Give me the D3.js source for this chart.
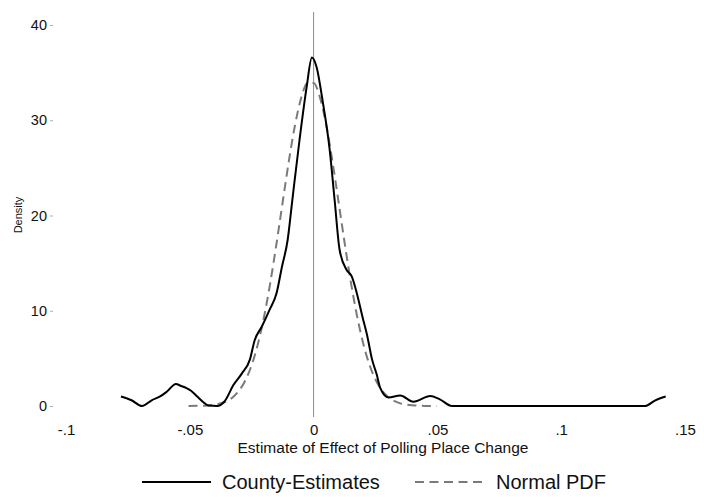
<!DOCTYPE html>
<html>
<head>
<meta charset="utf-8">
<script src="https://cdn.jsdelivr.net/npm/d3@7"></script>
<style>
  html, body { margin: 0; padding: 0; background: #fff; }
  svg { display: block; font-family: "Liberation Sans", Arial, Helvetica, sans-serif; }
</style>
</head>
<body>
<svg id="chart" width="704" height="497"></svg>
<script>
// Kernel density of county-level estimates (x = effect, y = density)
const countyX = [-0.0778, -0.0735, -0.0693, -0.0654, -0.062, -0.0593, -0.0556, -0.0535, -0.0515, -0.0495,
  -0.047, -0.0445, -0.0425, -0.039, -0.0358, -0.0324, -0.029, -0.0257, -0.0238, -0.021,
  -0.0178, -0.015, -0.0128, -0.0105, -0.0086, -0.0057, -0.0028, -0.0007, 0.0012, 0.0036,
  0.0065, 0.0085, 0.0105, 0.0133, 0.0154, 0.0174, 0.0198, 0.0218, 0.0235, 0.0255,
  0.0269, 0.0302, 0.035, 0.0403, 0.0471, 0.051, 0.0559, 0.1338, 0.138, 0.1422];
const countyY = [1.0, 0.6, 0.0, 0.6, 1.0, 1.5, 2.3, 2.1, 1.9, 1.6,
  1.0, 0.4, 0.05, 0.0, 0.55, 2.2, 3.4, 4.9, 6.9, 8.3,
  10.1, 11.8, 14.6, 17.4, 21.6, 27.9, 33.5, 36.6, 35.6, 32.1,
  26.9, 21.6, 16.4, 14.3, 13.6, 11.9, 9.3, 7.2, 5.0, 3.3,
  1.9, 0.9, 1.1, 0.45, 1.05, 0.7, 0.0, 0.0, 0.6, 1.0];

// Reference normal density
const normalX = [-0.0505, -0.045, -0.04, -0.0375, -0.035, -0.0325, -0.03, -0.0275, -0.025, -0.0225,
  -0.02, -0.0175, -0.015, -0.0125, -0.01, -0.0075, -0.005, -0.0025, 0, 0.0025,
  0.005, 0.0075, 0.01, 0.0125, 0.015, 0.0175, 0.02, 0.0225, 0.025, 0.0275,
  0.03, 0.0325, 0.035, 0.0375, 0.04, 0.045, 0.0497];
const normalY = [0.005, 0.03, 0.14, 0.28, 0.52, 0.95, 1.65, 2.72, 4.31, 6.50,
  9.38, 12.93, 17.02, 21.39, 25.70, 29.50, 32.35, 33.89, 33.92, 32.44,
  29.64, 25.86, 21.57, 17.18, 13.07, 9.51, 6.60, 4.38, 2.78, 1.68,
  0.97, 0.54, 0.28, 0.14, 0.07, 0.01, 0.003];

const xTicks = [-0.1, -0.05, 0, 0.05, 0.1, 0.15];
const xTickLabels = ["-.1", "-.05", "0", ".05", ".1", ".15"];
const yTicks = [0, 10, 20, 30, 40];
const yTickLabels = ["0", "10", "20", "30", "40"];
const seriesNames = ["County-Estimates", "Normal PDF"];

const svg = d3.select("#chart");
const x = d3.scaleLinear().domain([-0.1, 0.15]).range([66, 685]);
const y = d3.scaleLinear().domain([0, 40]).range([406, 25]);

// y axis: short ticks, no axis line
const yAxis = svg.append("g")
  .attr("transform", "translate(53,0)")
  .call(d3.axisLeft(y).tickValues(yTicks).tickFormat((d, i) => yTickLabels[i]).tickSize(3).tickPadding(3));
yAxis.select(".domain").remove();
yAxis.selectAll(".tick line").attr("stroke", "#999").attr("stroke-width", 0.8);
yAxis.selectAll(".tick text").attr("font-size", 14.5).attr("fill", "#111")
  .attr("font-family", "Liberation Sans, Arial, sans-serif");

// x axis: labels only
const xAxis = svg.append("g")
  .attr("transform", "translate(0,417)")
  .call(d3.axisBottom(x).tickValues(xTicks).tickFormat((d, i) => xTickLabels[i]).tickSize(0).tickPadding(7));
xAxis.select(".domain").remove();
xAxis.selectAll(".tick text").attr("font-size", 15).attr("fill", "#111")
  .attr("font-family", "Liberation Sans, Arial, sans-serif");

// axis titles
svg.append("text")
  .attr("x", 383).attr("y", 453)
  .attr("text-anchor", "middle").attr("font-size", 15.5).attr("fill", "#111")
  .text("Estimate of Effect of Polling Place Change");
svg.append("text")
  .attr("transform", "translate(22,215) rotate(-90)")
  .attr("text-anchor", "middle").attr("font-size", 11).attr("fill", "#111")
  .text("Density");

// reference line at zero
svg.append("line")
  .attr("x1", x(0)).attr("x2", x(0))
  .attr("y1", 12).attr("y2", 417)
  .attr("stroke", "#8c8c8c").attr("stroke-width", 1);

const line = d3.line()
  .x(d => x(d[0])).y(d => y(d[1]))
  .curve(d3.curveMonotoneX);

svg.append("path")
  .datum(normalX.map((v, i) => [v, normalY[i]]))
  .attr("d", line)
  .attr("fill", "none")
  .attr("stroke", "#7a7a7a")
  .attr("stroke-width", 2)
  .attr("stroke-dasharray", "9,5.5");

svg.append("path")
  .datum(countyX.map((v, i) => [v, countyY[i]]))
  .attr("d", line)
  .attr("fill", "none")
  .attr("stroke", "#000")
  .attr("stroke-width", 2)
  .attr("stroke-linejoin", "round");

// legend
const legend = svg.append("g");
legend.append("line")
  .attr("x1", 142).attr("x2", 211).attr("y1", 482).attr("y2", 482)
  .attr("stroke", "#000").attr("stroke-width", 2);
legend.append("text")
  .attr("x", 222).attr("y", 489).attr("font-size", 20).attr("fill", "#111")
  .text(seriesNames[0]);
legend.append("line")
  .attr("x1", 415).attr("x2", 485).attr("y1", 482).attr("y2", 482)
  .attr("stroke", "#7a7a7a").attr("stroke-width", 2).attr("stroke-dasharray", "9,5.5");
legend.append("text")
  .attr("x", 496).attr("y", 489).attr("font-size", 20).attr("fill", "#111")
  .text(seriesNames[1]);
</script>
</body>
</html>
